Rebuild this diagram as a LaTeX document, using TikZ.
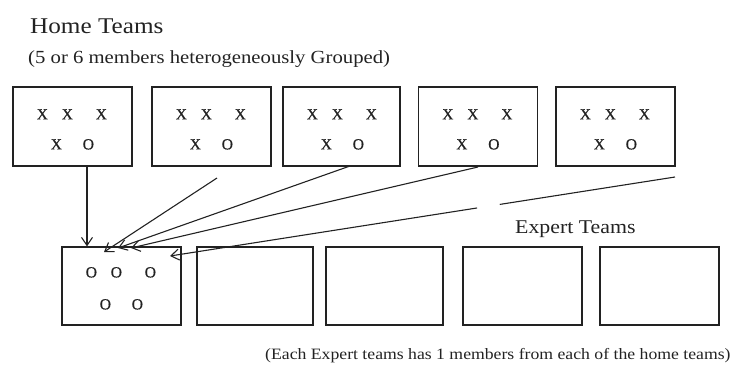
\documentclass[tikz,border=0pt]{standalone}
\usepackage{fontspec}
\setmainfont[FakeStretch=1.12]{Liberation Serif}
\newfontfamily\markfont[FakeBold=0.6]{Liberation Serif}
\usetikzlibrary{arrows.meta,calc}
\definecolor{ink}{HTML}{222222}
\tikzset{
  team/.style={draw=ink, line width=1.3pt, minimum width=119pt, minimum height=79pt, inner sep=0pt},
  expert/.style={draw=ink, line width=1.3pt, minimum width=118pt, minimum height=78pt, inner sep=0pt},
  member/.style={font=\markfont\fontsize{15.5}{15.5}\selectfont, text=ink, inner sep=0pt},
  link/.style={draw=ink, line width=1.1pt},
  arr/.style={link, -{Straight Barb[length=8pt,width=11pt,line width=1.1pt]}},
  title/.style={text=ink, inner sep=0pt, anchor=base west}
}
% five members laid out as 3 over 2, positioned from a box's top-left corner
\newcommand{\members}[4]{%
  \begin{scope}[shift={(#1.north west)}]
    \node[member] (#1m1) at (30,#4) {#2};
    \node[member] (#1m2) at (55,#4) {#2};
    \node[member] (#1m3) at (89,#4) {#2};
    \node[member] (#1m4) at (44,58) {#2};
    \node[member] (#1m5) at (76,58) {#3};
  \end{scope}}
\begin{document}
\begin{tikzpicture}[x=1pt,y=-1pt]
\useasboundingbox (0,0) rectangle (735,365);

\node[title, font=\fontsize{22.5}{22.5}\selectfont] (home) at (30,33.5) {Home Teams};
\node[title, font=\fontsize{18.5}{18.5}\selectfont] (homesub) at (28,63) {(5 or 6 members heterogeneously Grouped)};

% home teams
\node[team] (b1) at (72.5,126.5) {};
\node[team] (b2) at (211.5,126.5) {};
\node[team, minimum width=117pt] (b3) at (341.5,126.5) {};
\node[team] (b4) at (478,126.5) {};
\node[team] (b5) at (615.5,126.5) {};
\foreach \b in {b1,b2,b3,b4,b5} {\members{\b}{X}{O}{28}}

% expert teams
\node[title, font=\fontsize{19.5}{19.5}\selectfont] (experttitle) at (515,233) {Expert Teams};
\node[expert, minimum width=119pt] (e1) at (121.5,286) {};
\node[expert, minimum width=116pt] (e2) at (255,286) {};
\node[expert, minimum width=117pt] (e3) at (384.5,286) {};
\node[expert, minimum width=119pt] (e4) at (522.5,286) {};
\node[expert, minimum width=119pt] (e5) at (659.5,286) {};
\members{e1}{O}{O}{26}

\node[title, font=\fontsize{15.8}{15.8}\selectfont] (caption) at (265,359) {(Each Expert teams has 1 members from each of the home teams)};

% one member from each home team joins the first expert team
\coordinate (s1) at (87,166);
\coordinate (s2) at (217,178);  \coordinate (t2) at (104,252);
\coordinate (s3) at (350,166);  \coordinate (t3) at (118,248);
\coordinate (s4) at (478,167);  \coordinate (t4) at (131,248);
\coordinate (s5) at (675,177);  \coordinate (t5) at (170,256);
\draw[arr] (s1) -- (s1 |- e1.north);
\draw[arr] (s2) -- (t2);
\draw[arr] (s3) -- (t3);
\draw[arr] (s4) -- (t4);
\draw[link] (s5) -- ($(s5)!0.347!(t5)$);
\draw[arr] ($(s5)!0.392!(t5)$) -- (t5);
\end{tikzpicture}
\end{document}
